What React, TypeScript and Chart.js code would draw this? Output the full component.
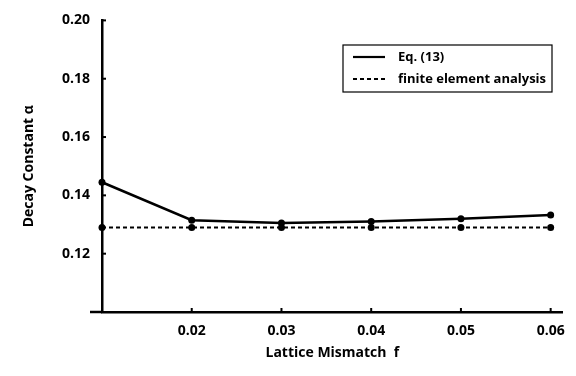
import React, { useEffect, useRef } from "react";
import { Chart, registerables } from "chart.js";

Chart.register(...registerables);

const mismatch = [0.01, 0.02, 0.03, 0.04, 0.05, 0.06];
const eq13 = [0.1445, 0.1315, 0.1305, 0.131, 0.132, 0.1333];
const fea = [0.129, 0.129, 0.129, 0.129, 0.129, 0.129];
const xTickLabels = [0.02, 0.03, 0.04, 0.05, 0.06];
const yTickLabels = [0.12, 0.14, 0.16, 0.18, 0.2];
const seriesNames = ["Eq. (13)", "finite element analysis"];

const FONT = "'Open Sans', 'Liberation Sans', sans-serif";

const decorPlugin = {
  id: "decor",
  afterDraw(chart: any) {
    const ctx = chart.ctx;
    const xs = chart.scales.x;
    const ys = chart.scales.y;
    const area = chart.chartArea;
    ctx.save();
    ctx.strokeStyle = "#000";
    ctx.lineWidth = 2;
    // inward tick marks
    xTickLabels.forEach((v) => {
      const px = xs.getPixelForValue(v);
      ctx.beginPath();
      ctx.moveTo(px, area.bottom);
      ctx.lineTo(px, area.bottom - 4);
      ctx.stroke();
    });
    yTickLabels.forEach((v) => {
      const py = ys.getPixelForValue(v);
      ctx.beginPath();
      ctx.moveTo(area.left, py);
      ctx.lineTo(area.left + 4, py);
      ctx.stroke();
    });
    // x axis extension left of y axis
    ctx.lineWidth = 2.5;
    ctx.beginPath();
    ctx.moveTo(area.left - 12, area.bottom);
    ctx.lineTo(area.left, area.bottom);
    ctx.stroke();

    // legend box
    const bx = 343, by = 45, bw = 209, bh = 47;
    ctx.lineWidth = 1.2;
    ctx.fillStyle = "#fff";
    ctx.fillRect(bx, by, bw, bh);
    ctx.strokeRect(bx, by, bw, bh);
    ctx.font = `bold 13px ${FONT}`;
    ctx.fillStyle = "#000";
    ctx.textBaseline = "middle";
    ctx.textAlign = "left";
    const rows = [57, 79];
    chart.data.datasets.forEach((ds: any, i: number) => {
      const y = rows[i];
      ctx.beginPath();
      ctx.lineWidth = 2.2;
      ctx.setLineDash(ds.borderDash || []);
      ctx.moveTo(353, y);
      ctx.lineTo(385, y);
      ctx.stroke();
      ctx.setLineDash([]);
      ctx.fillText(ds.label, 398, y);
    });
    ctx.restore();
  },
};

export default function App() {
  const ref = useRef<HTMLCanvasElement>(null);
  useEffect(() => {
    if (!ref.current) return;
    const chart = new Chart(ref.current, {
      type: "line",
      data: {
        datasets: [
          {
            label: seriesNames[0],
            data: mismatch.map((x, i) => ({ x, y: eq13[i] })),
            borderColor: "#000",
            backgroundColor: "#000",
            borderWidth: 2.5,
            pointRadius: 3.5,
            pointBackgroundColor: "#000",
            pointBorderWidth: 0,
            tension: 0,
            clip: false,
          },
          {
            label: seriesNames[1],
            data: mismatch.map((x, i) => ({ x, y: fea[i] })),
            borderColor: "#000",
            backgroundColor: "#000",
            borderWidth: 2,
            borderDash: [4, 3],
            pointRadius: 3.5,
            pointBackgroundColor: "#000",
            pointBorderWidth: 0,
            tension: 0,
            clip: false,
          },
        ],
      },
      options: {
        animation: false,
        responsive: false,
        maintainAspectRatio: false,
        layout: { padding: { top: 18, right: 13, left: 0, bottom: 0 } },
        plugins: { legend: { display: false }, tooltip: { enabled: false } },
        scales: {
          x: {
            type: "linear",
            min: 0.01,
            max: 0.06134,
            afterFit: (s: any) => {
              s.height = 64;
            },
            afterBuildTicks: (s: any) => {
              s.ticks = xTickLabels.map((v) => ({ value: v }));
            },
            grid: { display: true, drawOnChartArea: false, drawTicks: false },
            border: { display: true, color: "#000", width: 2.5 },
            ticks: {
              color: "#000",
              padding: 11,
              font: { family: FONT, size: 14, weight: "bold" },
              callback: (v: any) => Number(v).toFixed(2),
            },
            title: {
              display: true,
              text: "Lattice Mismatch  f",
              color: "#000",
              font: { family: FONT, size: 14, weight: "bold" },
              padding: { top: 0, bottom: 15 },
            },
          },
          y: {
            type: "linear",
            min: 0.1,
            max: 0.2,
            afterFit: (s: any) => {
              s.width = 102;
            },
            afterBuildTicks: (s: any) => {
              s.ticks = yTickLabels.map((v) => ({ value: v }));
            },
            grid: { display: true, drawOnChartArea: false, drawTicks: false },
            border: { display: true, color: "#000", width: 2.5 },
            ticks: {
              color: "#000",
              padding: 12,
              font: { family: FONT, size: 14, weight: "bold" },
              callback: (v: any) => Number(v).toFixed(2),
            },
            title: {
              display: true,
              text: "Decay Constant α",
              color: "#000",
              font: { family: FONT, size: 14, weight: "bold" },
              padding: { top: 21, bottom: 0 },
            },
          },
        },
      },
      plugins: [decorPlugin],
    } as any);
    return () => chart.destroy();
  }, []);
  return (
    <div style={{ position: "fixed", left: 0, top: 0, width: 576, height: 376, background: "#fff" }}>
      <canvas ref={ref} width={576} height={376} style={{ display: "block" }} />
    </div>
  );
}
